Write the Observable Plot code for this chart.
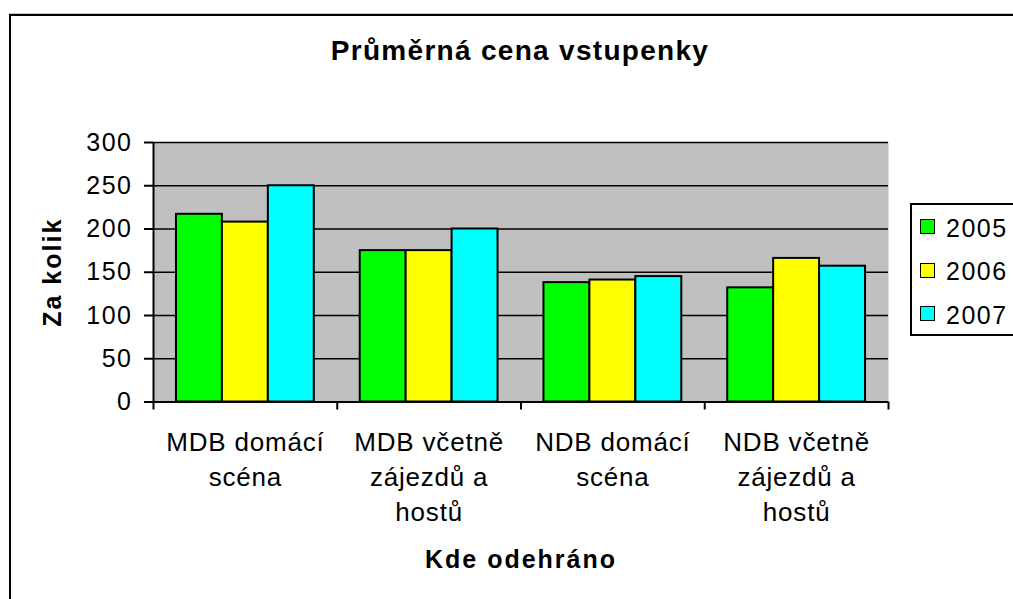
<!DOCTYPE html>
<html><head><meta charset="utf-8">
<script src="https://cdn.jsdelivr.net/npm/d3@7"></script>
<script src="https://cdn.jsdelivr.net/npm/@observablehq/plot@0.6"></script>
<style>
html,body{margin:0;padding:0;background:#fff;overflow:hidden;}
#page{position:relative;width:1013px;height:599px;overflow:hidden;font-family:"Liberation Sans",Arial,sans-serif;color:#000;}
#frame{position:absolute;left:9px;top:14px;width:1200px;height:800px;border:2px solid #000;box-shadow:0 -1px 0 #c8c8c8;pointer-events:none;}
#title{position:absolute;left:0;width:1040px;top:37px;text-align:center;font-weight:bold;font-size:28px;line-height:28px;letter-spacing:1.3px;white-space:nowrap;}
#chart{position:absolute;left:0;top:0;}
#legend{position:absolute;left:910px;top:203px;width:200px;height:129px;border:2px solid #000;background:#fff;}
.row{display:flex;align-items:center;height:43.6px;padding-left:8px;}
.sw{width:15px;height:15px;box-sizing:border-box;border:1.5px solid #000;margin-right:11px;}
.lab{font-size:25px;letter-spacing:1.5px;position:relative;top:1.5px;line-height:1;}
#chart svg text{letter-spacing:1.5px;}
#chart svg g[font-size="26"] text{letter-spacing:0.8px;}
#chart svg g[font-weight="bold"] text{letter-spacing:2px;}
</style>
</head>
<body>
<div id="page">
  <div id="chart"></div>
  <div id="title"></div>
  <div id="legend"></div>
  <div id="frame"></div>
</div>
<script>
const categories = ["MDB domácí scéna", "MDB včetně zájezdů a hostů", "NDB domácí scéna", "NDB včetně zájezdů a hostů"];
const categoryLabels = ["MDB domácí\nscéna", "MDB včetně\nzájezdů a\nhostů", "NDB domácí\nscéna", "NDB včetně\nzájezdů a\nhostů"];
const years = ["2005", "2006", "2007"];
const price2005 = [217, 175, 138, 132];
const price2006 = [208, 175, 141, 166];
const price2007 = [250, 200, 145, 157];
const yearColors = ["#00ff00", "#ffff00", "#00ffff"];
const yTicks = [0, 50, 100, 150, 200, 250, 300];
const titleText = "Průměrná cena vstupenky";
const yLabel = "Za kolik";
const xLabel = "Kde odehráno";

const series = [price2005, price2006, price2007];
const rows = categories.flatMap((c, i) => years.map((yr, j) => ({category: c, ci: i, year: yr, yi: j, value: series[j][i]})));
const slots = years.length + 1;

const chart = Plot.plot({
  width: 1013,
  height: 599,
  marginLeft: 153,
  marginRight: 125,
  marginTop: 142,
  marginBottom: 197.5,
  style: {fontFamily: '"Liberation Sans", Arial, sans-serif', background: "transparent", overflow: "visible", color: "#000"},
  x: {domain: [0, categories.length]},
  y: {domain: [0, 300]},
  color: {domain: years, range: yearColors},
  marks: [
    Plot.frame({fill: "#c0c0c0", stroke: null}),
    Plot.gridY(yTicks, {stroke: "#000", strokeOpacity: 1, strokeWidth: 1.5}),
    Plot.rectY(rows, {
      x1: d => d.ci + (d.yi + 0.5) / slots,
      x2: d => d.ci + (d.yi + 1.5) / slots,
      y1: 0,
      y2: "value",
      fill: "year",
      stroke: "#000",
      strokeWidth: 2
    }),
    Plot.ruleX([0], {stroke: "#000", strokeWidth: 2}),
    Plot.ruleY([0], {stroke: "#000", strokeWidth: 2}),
    Plot.axisY(yTicks, {tickSize: 9, tickPadding: 12, fontSize: 25, stroke: "#000", strokeWidth: 2, label: null}),
    Plot.axisX(d3.range(categories.length + 1), {tickSize: 8, tickFormat: () => "", stroke: "#000", strokeWidth: 2, label: null}),
    Plot.axisX(categories.map((c, i) => i + 0.5), {tickSize: 0, tickPadding: 24, tickFormat: d => categoryLabels[Math.floor(d)], fontSize: 26, lineHeight: 1.35, label: null}),
    Plot.text([xLabel], {text: d => d, frameAnchor: "bottom", lineAnchor: "top", dy: 148, fontSize: 25, fontWeight: "bold"}),
    Plot.text([yLabel], {text: d => d, frameAnchor: "left", textAnchor: "middle", rotate: -90, lineAnchor: "top", dx: -110, fontSize: 25, fontWeight: "bold"})
  ]
});
document.getElementById("chart").appendChild(chart);
document.getElementById("title").textContent = titleText;

const legend = d3.select("#legend");
years.forEach((yr, j) => {
  const row = legend.append("div").attr("class", "row");
  row.append("div").attr("class", "sw").style("background", yearColors[j]);
  row.append("span").attr("class", "lab").text(yr);
});
</script>
</body></html>
